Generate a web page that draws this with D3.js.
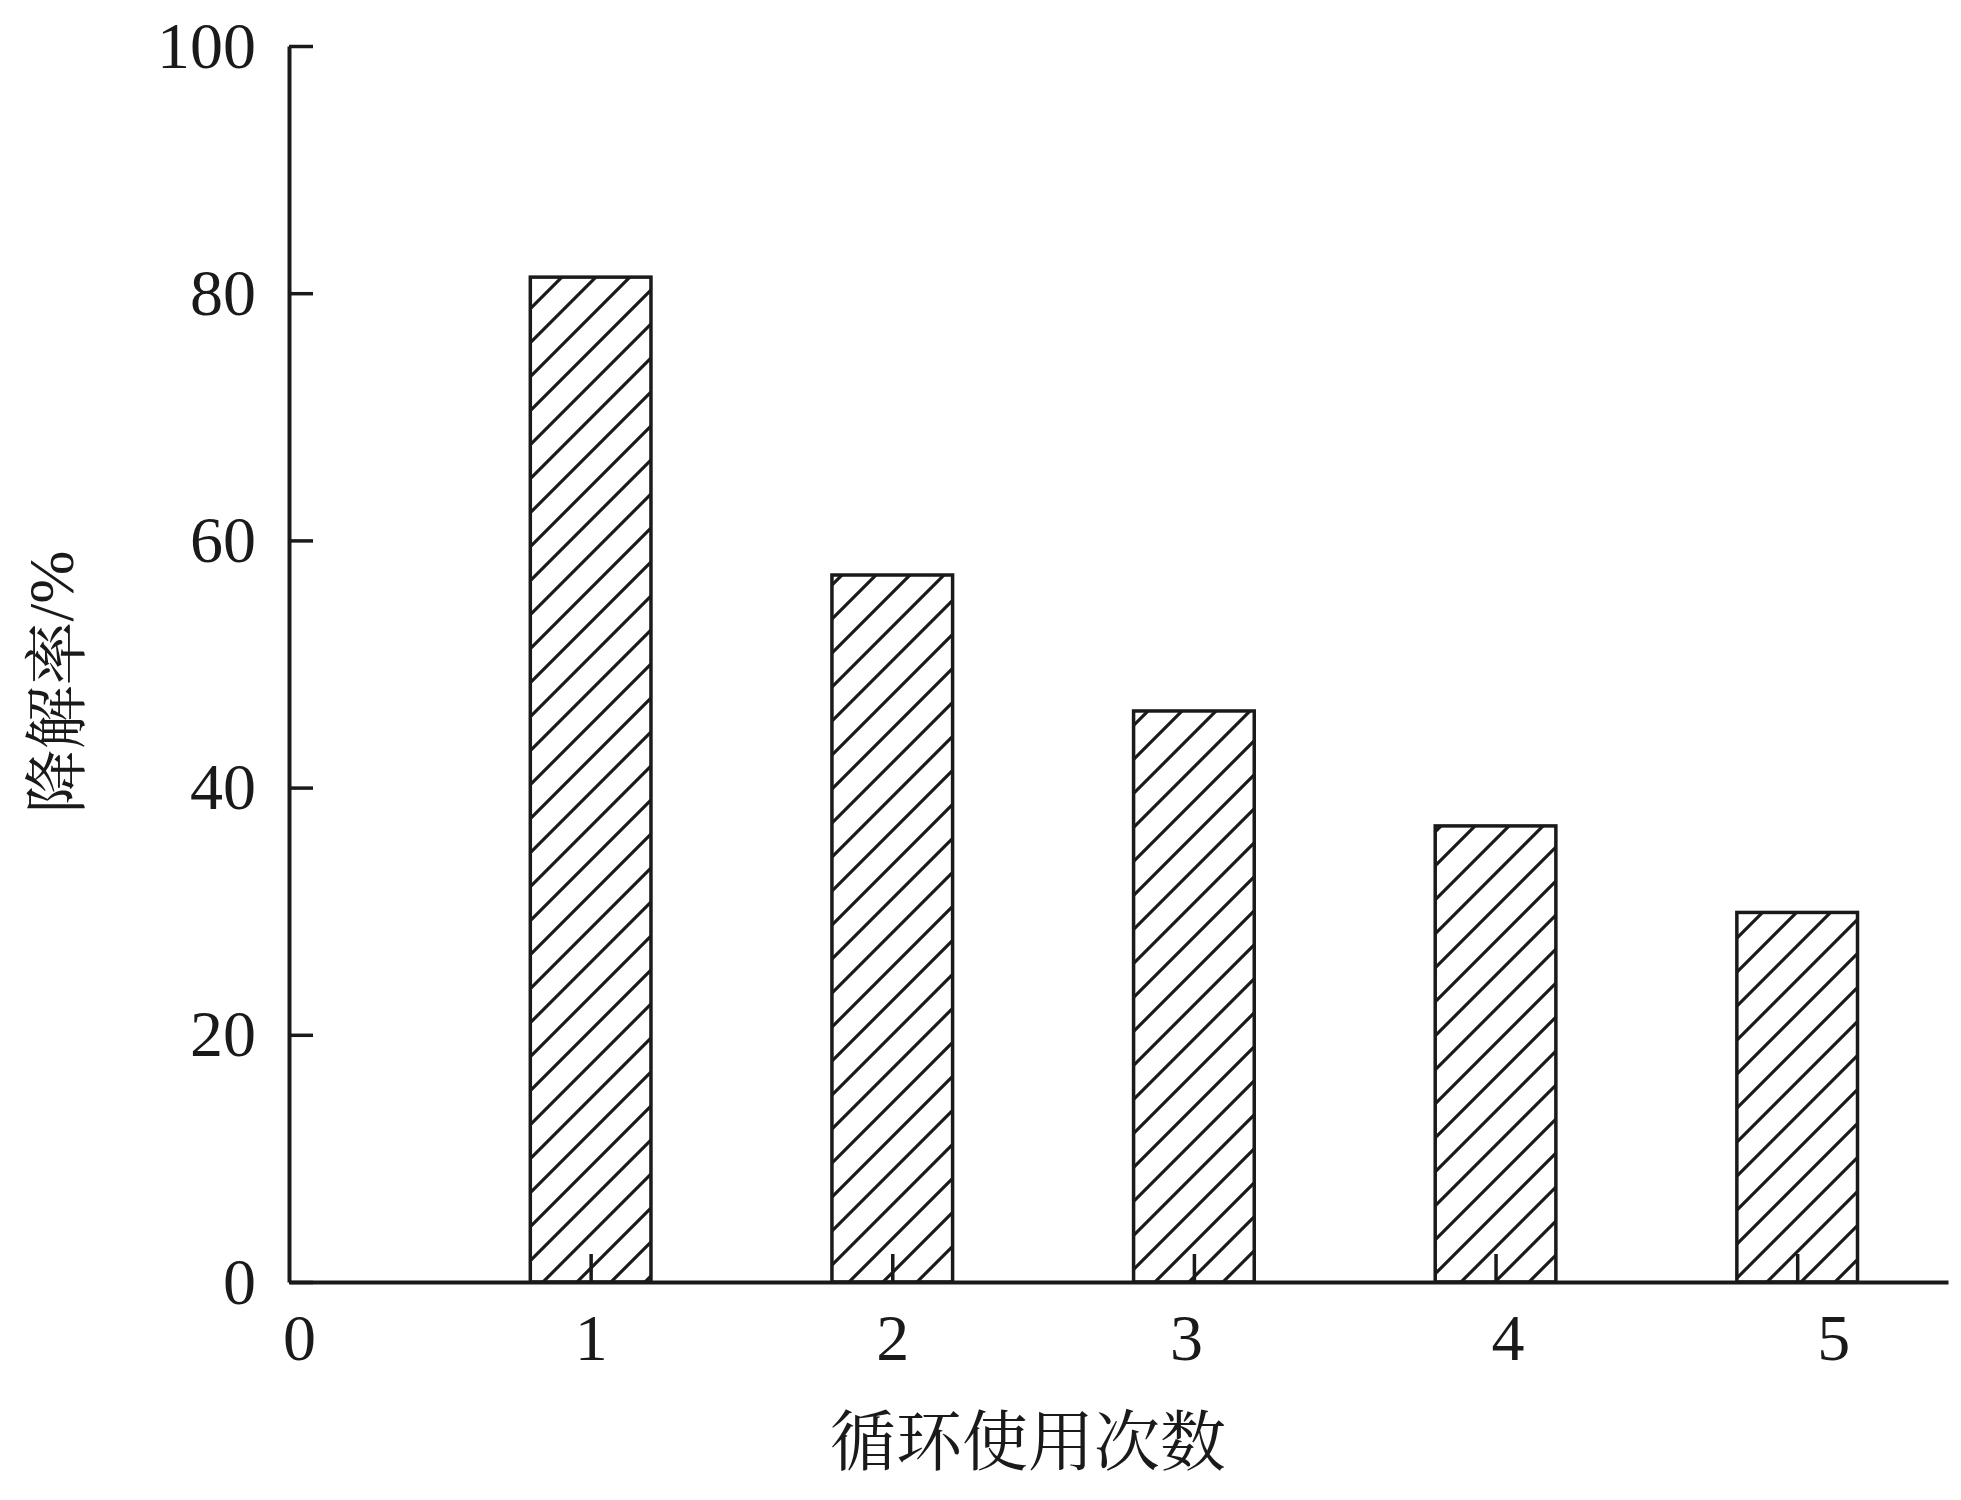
<!DOCTYPE html>
<html>
<head>
<meta charset="utf-8">
<script src="https://cdn.jsdelivr.net/npm/d3@7/dist/d3.min.js"></script>
<style>
  html, body { margin: 0; padding: 0; background: #fff; }
  svg { display: block; }
</style>
</head>
<body>
<svg id="chart" width="1961" height="1500"></svg>
<script>
// ---- data ----
const cycles = [1, 2, 3, 4, 5];
const degradation = [81.3, 57.2, 46.2, 36.9, 29.9];
const xTicks = [0, 1, 2, 3, 4, 5];
const yTicks = [0, 20, 40, 60, 80, 100];
const xTitle = "循环使用次数";
const yTitleCJK = "降解率";
const yTitleUnit = "/%";

// ---- layout ----
const svg = d3.select("#chart");
const ink = "#1a1a1a";
const serif = "'Liberation Serif', 'Times New Roman', serif";
const cjk = "'Noto Serif CJK SC', 'Noto Sans CJK SC', sans-serif";
// small horizontal nudges of x tick labels, as placed in the original figure
const xLabelNudge = { 0: 10, 1: 0, 2: 0, 3: -8, 4: 12, 5: 36 };

const x = d3.scaleLinear().domain([0, 5.5]).range([289, 1948]);
const y = d3.scaleLinear().domain([0, 100]).range([1282, 46]);
const barW = 0.4;

// hatch pattern
const defs = svg.append("defs");
const pat = defs.append("pattern")
  .attr("id", "hatch")
  .attr("patternUnits", "userSpaceOnUse")
  .attr("x", 23).attr("y", 0)
  .attr("width", 34).attr("height", 34);
pat.append("path")
  .attr("d", "M0,34 L34,0 M-8.5,8.5 L8.5,-8.5 M25.5,42.5 L42.5,25.5")
  .attr("stroke", ink).attr("stroke-width", 3.2).attr("fill", "none");

// bars
svg.append("g").selectAll("rect")
  .data(cycles.map((c, i) => ({ c, v: degradation[i] })))
  .join("rect")
  .attr("x", d => x(d.c - barW / 2))
  .attr("width", d => x(d.c + barW / 2) - x(d.c - barW / 2))
  .attr("y", d => y(d.v))
  .attr("height", d => y(0) - y(d.v))
  .attr("fill", "url(#hatch)")
  .attr("stroke", ink)
  .attr("stroke-width", 3.5);

// y axis
const yAxis = d3.axisLeft(y)
  .tickValues(yTicks)
  .tickFormat(d3.format("d"))
  .tickSizeInner(-24)
  .tickSizeOuter(0)
  .tickPadding(33);
const gy = svg.append("g").attr("transform", `translate(${x(0)},0)`).call(yAxis);

// x axis
const xAxis = d3.axisBottom(x)
  .tickValues(xTicks)
  .tickFormat(d3.format("d"))
  .tickSizeInner(-28)
  .tickSizeOuter(0)
  .tickPadding(31);
const gx = svg.append("g").attr("transform", `translate(0,${y(0)})`).call(xAxis);

[gx, gy].forEach(g => {
  g.select(".domain").attr("stroke", ink).attr("stroke-width", 4);
  g.selectAll(".tick line").attr("stroke", ink).attr("stroke-width", 3.5);
  g.selectAll(".tick text")
    .attr("fill", ink)
    .style("font-family", serif)
    .style("font-size", "66px");
});
gx.selectAll(".tick").filter(d => d === 0).select("line").remove();
gx.selectAll(".tick text").attr("x", d => xLabelNudge[d] || 0);

// x title
svg.append("text")
  .attr("x", 1028).attr("y", 1465)
  .attr("text-anchor", "middle")
  .attr("fill", ink)
  .style("font-family", cjk)
  .style("font-size", "66px")
  .text(xTitle);

// y title
const yt = svg.append("text")
  .attr("transform", "translate(51,682) rotate(-90)")
  .attr("text-anchor", "middle")
  .attr("dominant-baseline", "central")
  .attr("fill", ink)
  .style("font-family", cjk)
  .style("font-size", "64px");
yt.append("tspan").text(yTitleCJK);
yt.append("tspan").style("font-family", serif).text(yTitleUnit);
</script>
</body>
</html>
